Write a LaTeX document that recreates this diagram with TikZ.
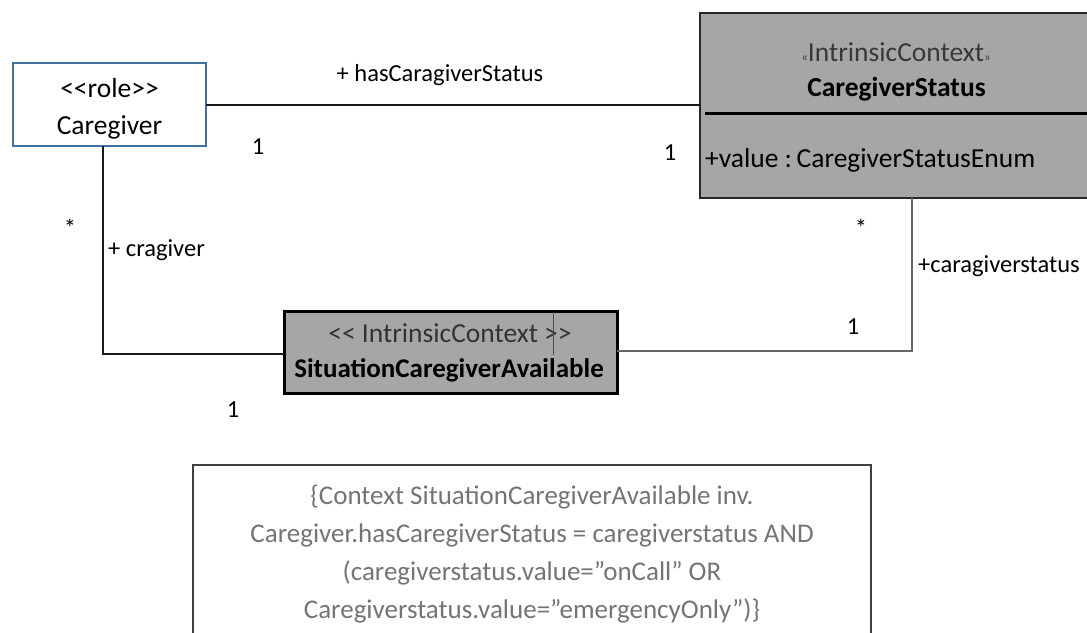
\documentclass[tikz,border=0pt]{standalone}
\usepackage{fontspec}
\setmainfont{Carlito}
\definecolor{roleblue}{HTML}{41719C}
\definecolor{boxgray}{HTML}{A6A6A6}
\definecolor{notegray}{HTML}{747474}
\definecolor{noteline}{HTML}{404040}
\newcommand{\lt}{\mbox{<}}
\newcommand{\gt}{\mbox{>}}
\begin{document}
\begin{tikzpicture}[x=1pt,y=-1pt,
  umlbox/.style={draw, inner sep=0pt, outer sep=0pt},
  conn/.style={draw=black!90, line width=2pt},
  lbl/.style={inner sep=0pt, font=\fontsize{24.5}{28}\selectfont},
  clstext/.style={inner sep=0pt, font=\fontsize{27.5}{32}\selectfont}]
\useasboundingbox (0,0) rectangle (1087,632);

% classes
\node[umlbox, draw=roleblue, line width=2.7pt, minimum width=193pt, minimum height=83pt] (cg) at (109.5,104.5) {};
\node[umlbox, fill=boxgray, draw=black!85, line width=2pt, minimum width=400pt, minimum height=185pt] (cs) at (900,105.5) {};
\node[umlbox, fill=boxgray, draw=black, line width=3pt, minimum width=333pt, minimum height=82pt] (sca) at (450.5,352) {};
\node[umlbox, draw=noteline, line width=2.4pt, minimum width=678pt, minimum height=180pt] (note) at (532,555) {};

% class texts
\node[clstext] (cgst) at (109.5,88) {\lt\lt role\gt\gt};
\node[clstext] (cgnm) at (109.5,127) {Caregiver};
\node[clstext, text=black!78] (csst) at (896,52) {{\fontsize{13}{15}\selectfont«}IntrinsicContext{\fontsize{13}{15}\selectfont»}};
\node[clstext, font=\fontsize{27.5}{32}\selectfont\bfseries] (csnm) at (896.5,89) {CaregiverStatus};
\coordinate (divl) at (705,113);
\coordinate (divr) at (1087,113);
\draw[line width=3pt] (divl) -- (divr);
\node[clstext, anchor=west] (csat) at (705,160) {+value :\,CaregiverStatusEnum};
\node[clstext, text=black!80] (scast) at (450,333) {\lt\lt{} IntrinsicContext \gt\gt};
\node[clstext, font=\fontsize{27}{32}\selectfont\bfseries] (scanm) at (449,370) {SituationCaregiverAvailable};
\coordinate (curt) at (553,312);
\coordinate (curb) at (553,355);
\draw[line width=0.8pt, black!70] (curt) -- (curb);

% associations
\draw[conn] (cg.east) -- (cs.west |- cg.east);
\draw[conn] ([xshift=-6.5pt]cg.south) |- ([yshift=-2pt]sca.west);
\draw[conn, draw=black!60] ([xshift=12pt]cs.south) |- ([yshift=1pt]sca.east);

% association labels and multiplicities
\node[lbl] (l1) at (440,75) {+ hasCaragiverStatus};
\node[lbl] (m1) at (258,147) {1};
\node[lbl] (m2) at (670,153) {1};
\node[lbl] (m3) at (70,228) {*};
\node[lbl, anchor=west] (l2) at (108,250) {+ cragiver};
\node[lbl] (m4) at (233,410) {1};
\node[lbl] (m5) at (861,228) {*};
\node[lbl, anchor=west] (l3) at (918,266) {+caragiverstatus};
\node[lbl] (m6) at (853,327) {1};

% constraint note
\node[inner sep=0pt, align=center, text=notegray, font=\fontsize{27}{38}\selectfont] (ocl) at (532,554)
  {\{Context SituationCaregiverAvailable inv.\\
   Caregiver.hasCaregiverStatus = caregiverstatus AND\\
   (caregiverstatus.value=”onCall” OR\\
   Caregiverstatus.value=”emergencyOnly”)\}};
\end{tikzpicture}
\end{document}
